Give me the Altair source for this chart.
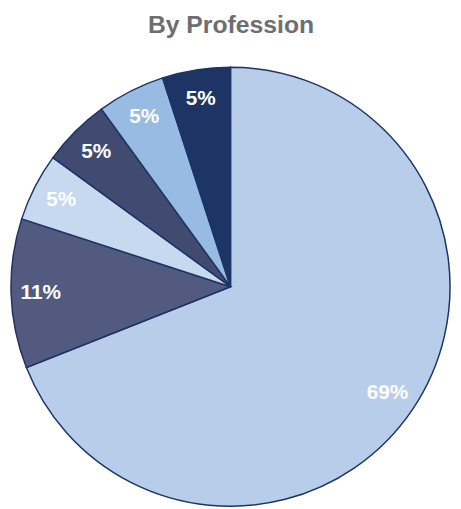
import altair as alt
import pandas as pd

# --- data ---
categories = ["Profession A", "Profession B", "Profession C",
              "Profession D", "Profession E", "Profession F"]
values = [69, 11, 5, 5, 5, 5]
labels = ["69%", "11%", "5%", "5%", "5%", "5%"]
colors = ["#b8cde9", "#525b7f", "#c6d9ef", "#414b72", "#98bbe3", "#1d3465"]

df = pd.DataFrame({
    "category": categories,
    "value": values,
    "label": labels,
    "order": list(range(len(values))),
})

CX, CY, R = 222, 230, 222

base = alt.Chart(df).encode(
    theta=alt.Theta("value:Q", stack=True),
    order=alt.Order("order:Q"),
    x=alt.value(CX),
    y=alt.value(CY),
)

pie = base.mark_arc(outerRadius=R, stroke="#1d3465", strokeWidth=1.5).encode(
    color=alt.Color("category:N",
                    scale=alt.Scale(domain=categories, range=colors),
                    legend=None)
)

text = base.mark_text(radius=192, fontSize=21, fontWeight="bold",
                      font="Liberation Sans", color="white",
                      align="center", baseline="middle").encode(
    text="label:N"
)

chart = alt.layer(pie, text).properties(
    width=445,
    height=442,
    padding={"top": 2, "left": 0, "right": 0, "bottom": 0},
    title=alt.TitleParams("By Profession", fontSize=25, fontWeight="bold",
                          font="Liberation Sans", color="#6d6e72",
                          anchor="middle", offset=22),
).configure_view(stroke=None)

chart.save("out.html", embed_options={"renderer": "svg", "actions": False})
